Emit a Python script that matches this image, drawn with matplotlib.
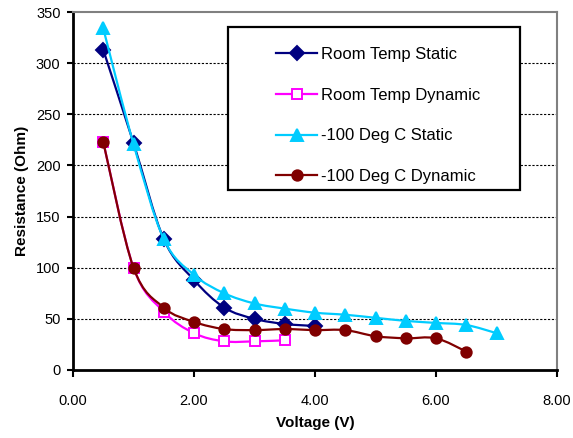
import numpy as np
import matplotlib
matplotlib.use("Agg")
import matplotlib.pyplot as plt
import matplotlib.patches as mpatches
from matplotlib.path import Path
from matplotlib.lines import Line2D
import matplotlib.ticker as ticker

plt.rcParams['font.family'] = ['Liberation Sans', 'DejaVu Sans']

# resistance vs voltage, four measurement sets
v_room_static = [0.5, 1.0, 1.5, 2.0, 2.5, 3.0, 3.5, 4.0]
r_room_static = [313, 222, 128, 88, 61, 50, 45, 43]

v_room_dynamic = [0.5, 1.0, 1.5, 2.0, 2.5, 3.0, 3.5]
r_room_dynamic = [223, 100, 57, 36, 28, 28, 29]

v_cold_static = [0.5, 1.0, 1.5, 2.0, 2.5, 3.0, 3.5, 4.0, 4.5, 5.0, 5.5, 6.0, 6.5, 7.0]
r_cold_static = [334, 221, 128, 93, 75, 65, 60, 56, 54, 51, 48, 46, 44, 36]

v_cold_dynamic = [0.5, 1.0, 1.5, 2.0, 2.5, 3.0, 3.5, 4.0, 4.5, 5.0, 5.5, 6.0, 6.5]
r_cold_dynamic = [223, 100, 61, 47, 40, 39, 40, 39, 39, 33, 31, 31, 18]

series = [
    ('Room Temp Static', v_room_static, r_room_static, '#000080', 'D', 7.0, None),
    ('Room Temp Dynamic', v_room_dynamic, r_room_dynamic, '#ff00ff', 's', 6.5, 'white'),
    ('-100 Deg C Static', v_cold_static, r_cold_static, '#00ccff', '^', 9.0, None),
    ('-100 Deg C Dynamic', v_cold_dynamic, r_cold_dynamic, '#800000', 'o', 7.5, None),
]


def smooth_path(x, y):
    '''
    Cubic bezier path through the points (Catmull-Rom style tangents),
    similar to a spreadsheet "smoothed line".
    '''
    x = np.asarray(x, float)
    y = np.asarray(y, float)
    n = len(x)
    verts = [(x[0], y[0])]
    codes = [Path.MOVETO]
    for i in range(n - 1):
        i0 = max(i - 1, 0)
        i3 = min(i + 2, n - 1)
        c1 = (x[i] + (x[i + 1] - x[i0]) / 6., y[i] + (y[i + 1] - y[i0]) / 6.)
        c2 = (x[i + 1] - (x[i3] - x[i]) / 6., y[i + 1] - (y[i3] - y[i]) / 6.)
        verts += [c1, c2, (x[i + 1], y[i + 1])]
        codes += [Path.CURVE4] * 3
    return Path(verts, codes)


fig = plt.figure(figsize=(5.73, 4.38), dpi=100)
ax = fig.add_axes([0.1274, 0.1553, 0.8447, 0.8173])

handles = []
for k, (label, vx, ry, col, mk, ms, mfc) in enumerate(series):
    patch = mpatches.PathPatch(smooth_path(vx, ry), facecolor='none',
                               edgecolor=col, lw=1.6, zorder=2 + k)
    ax.add_patch(patch)
    face = col if mfc is None else mfc
    ax.plot(vx, ry, linestyle='none', marker=mk, ms=ms, color=col,
            mfc=face, mec=col, mew=1.4, zorder=2 + k)
    handles.append(Line2D([], [], color=col, lw=1.6, marker=mk, ms=ms,
                          mfc=face, mec=col, mew=1.4))

ax.set_xlim(0, 8)
ax.set_ylim(0, 350)
ax.set_xticks(np.arange(0, 8.1, 2))
ax.set_yticks(np.arange(0, 351, 50))
ax.xaxis.set_major_formatter(ticker.FormatStrFormatter('%.2f'))
ax.tick_params(axis='both', direction='out', length=4, width=1.5,
               labelsize=10.5, colors='black', pad=5)
ax.tick_params(axis='x', length=5, pad=12)

for y in range(50, 301, 50):
    ax.axhline(y, color='black', lw=0.8, linestyle=(0, (2, 1.5)), zorder=1)

ax.spines['left'].set_linewidth(2)
ax.spines['bottom'].set_linewidth(2)
ax.spines['top'].set_color('#808080')
ax.spines['right'].set_color('#808080')
ax.spines['top'].set_linewidth(1.5)
ax.spines['right'].set_linewidth(1.5)

ax.set_xlabel('Voltage (V)', fontsize=11, fontweight='bold', labelpad=6)
ax.set_ylabel('Resistance (Ohm)', fontsize=11, fontweight='bold', labelpad=5)

# legend box with its own frame
frame = mpatches.Rectangle((0.320, 0.503), 0.6036, 0.455, transform=ax.transAxes,
                           facecolor='white', edgecolor='black', lw=1.6, zorder=8)
ax.add_patch(frame)
leg = ax.legend(handles=handles, labels=[s[0] for s in series], frameon=False,
                loc='upper left', bbox_to_anchor=(0.419, 0.903), borderpad=0,
                borderaxespad=0, fontsize=12, handlelength=2.5,
                handletextpad=0.2, labelspacing=1.55)
leg.set_zorder(9)

plt.savefig('out.png', dpi=100)
plt.close()
